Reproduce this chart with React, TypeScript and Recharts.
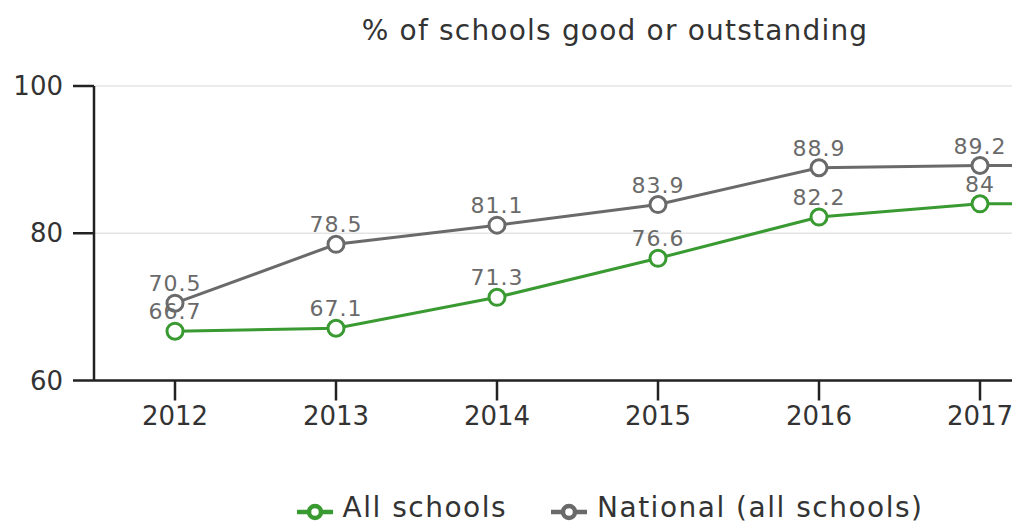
import React from 'react'
import { CartesianGrid, Legend, Line, LineChart, XAxis, YAxis } from 'recharts'

const years = ['2012', '2013', '2014', '2015', '2016', '2017', '2018']
// 2018 sits off the right edge of the picture; values estimated from the line stubs
const allSchools = [66.7, 67.1, 71.3, 76.6, 82.2, 84, 84]
const national = [70.5, 78.5, 81.1, 83.9, 88.9, 89.2, 89.2]
const yTicks = [60, 80, 100]

const GREEN = '#3a9a32'
const GREY = '#6a6a6a'
const FONT = '"DejaVu Sans", sans-serif'

const rows = years.map((year, i) => ({ year, all: allSchools[i], national: national[i] }))

export default function App() {
  return (
    <div style={{ position: 'relative', width: 1012, height: 516, overflow: 'hidden', fontFamily: FONT }}>
      <div
        style={{
          position: 'absolute',
          left: 0,
          top: 6,
          width: 1214,
          textAlign: 'center',
          fontSize: 28,
          letterSpacing: 1.2,
          color: '#333',
          zIndex: 1,
        }}
      >
        % of schools good or outstanding
      </div>
      <LineChart width={1214} height={516} data={rows} margin={{ top: 78, right: 0, bottom: 0, left: 0 }}>
        <CartesianGrid vertical={false} stroke="#e4e4e4" strokeWidth={1.5} />
        <XAxis
          dataKey="year"
          padding={{ left: 81, right: 81 }}
          height={104}
          tickSize={20}
          tickMargin={6}
          axisLine={{ stroke: '#222', strokeWidth: 2.5 }}
          tickLine={{ stroke: '#222', strokeWidth: 2.5 }}
          tick={{ fill: '#333', fontSize: 26, fontFamily: FONT }}
        />
        <YAxis
          domain={[60, 100]}
          ticks={yTicks}
          width={86}
          tickSize={21}
          tickMargin={10}
          axisLine={{ stroke: '#222', strokeWidth: 2.5 }}
          tickLine={{ stroke: '#222', strokeWidth: 2.5 }}
          tick={{ fill: '#333', fontSize: 26, fontFamily: FONT }}
        />
        <Legend
          verticalAlign="bottom"
          iconSize={36}
          wrapperStyle={{ bottom: -6 }}
          formatter={(value: string, _entry: unknown, index: number) => (
            <span
              style={{
                color: '#333',
                fontSize: 28,
                letterSpacing: 1.5,
                marginLeft: 6,
                marginRight: index === 0 ? 34 : 0,
                fontFamily: FONT,
              }}
            >
              {value}
            </span>
          )}
        />
        <Line
          type="linear"
          dataKey="all"
          name="All schools"
          stroke={GREEN}
          strokeWidth={3}
          dot={{ r: 8, strokeWidth: 3, fill: '#fff', stroke: GREEN }}
          label={{ position: 'top', offset: 12, fill: GREY, fontSize: 22, letterSpacing: 1, fontFamily: FONT }}
          isAnimationActive={false}
        />
        <Line
          type="linear"
          dataKey="national"
          name="National (all schools)"
          stroke={GREY}
          strokeWidth={3}
          dot={{ r: 8, strokeWidth: 3, fill: '#fff', stroke: GREY }}
          label={{ position: 'top', offset: 12, fill: GREY, fontSize: 22, letterSpacing: 1, fontFamily: FONT }}
          isAnimationActive={false}
        />
      </LineChart>
    </div>
  )
}
